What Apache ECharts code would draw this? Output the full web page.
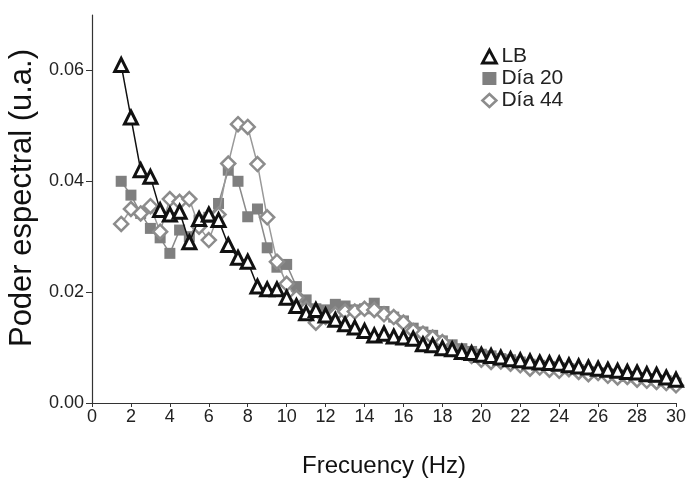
<!DOCTYPE html>
<html><head><meta charset="utf-8">
<script src="https://cdn.jsdelivr.net/npm/echarts@6/dist/echarts.min.js"></script>
<style>html,body{margin:0;padding:0;background:#fff}#c{width:688px;height:481px}</style>
</head><body><div id="c"></div>
<script>
const freq = [1.5,2,2.5,3,3.5,4,4.5,5,5.5,6,6.5,7,7.5,8,8.5,9,9.5,10,10.5,11,11.5,12,12.5,13,13.5,14,14.5,15,15.5,16,16.5,17,17.5,18,18.5,19,19.5,20,20.5,21,21.5,22,22.5,23,23.5,24,24.5,25,25.5,26,26.5,27,27.5,28,28.5,29,29.5,30];
const lb = [0.061,0.0515,0.042,0.0408,0.0348,0.034,0.0345,0.029,0.0332,0.034,0.033,0.0285,0.0262,0.0255,0.021,0.0205,0.0205,0.019,0.0175,0.0162,0.0168,0.0158,0.015,0.0142,0.0136,0.013,0.0122,0.0125,0.012,0.0118,0.0116,0.0106,0.0104,0.0099,0.0097,0.0092,0.009,0.0087,0.0085,0.0082,0.0079,0.0077,0.0075,0.0073,0.0072,0.0071,0.0068,0.0066,0.0064,0.0062,0.006,0.0058,0.0056,0.0055,0.0052,0.0051,0.0046,0.0042];
const dia20 = [0.040,0.0375,0.0342,0.0315,0.0298,0.027,0.0312,0.030,0.033,0.0335,0.036,0.042,0.040,0.0336,0.035,0.028,0.0245,0.025,0.021,0.0186,0.017,0.0168,0.0178,0.0175,0.0168,0.017,0.018,0.0165,0.0155,0.0148,0.0135,0.0128,0.0122,0.0112,0.0105,0.0098,0.0093,0.0088,0.0085,0.008,0.0078,0.0074,0.007,0.0068,0.0066,0.0064,0.0062,0.006,0.0057,0.0055,0.0053,0.0051,0.0048,0.0046,0.0044,0.0042,0.004,0.0036];
const dia44 = [0.0323,0.035,0.0342,0.0355,0.0309,0.0368,0.0363,0.0368,0.0318,0.0294,0.034,0.0432,0.0503,0.0498,0.0431,0.0335,0.0255,0.0215,0.019,0.017,0.0145,0.0155,0.016,0.0165,0.0165,0.017,0.0168,0.016,0.0155,0.0145,0.013,0.0125,0.0118,0.011,0.0098,0.0092,0.0085,0.0078,0.0074,0.0075,0.0071,0.0068,0.0062,0.0064,0.006,0.0058,0.0061,0.0056,0.0052,0.0054,0.0049,0.0046,0.0047,0.0042,0.004,0.0038,0.0036,0.0032];
const yTicks = [0,0.02,0.04,0.06];
const names = ['LB','Día 20','Día 44'];
const pair = arr => freq.map((f,i)=>[f,arr[i]]);
const font = 'Liberation Sans, Arial, sans-serif';

const chart = echarts.init(document.getElementById('c'), null, {renderer:'canvas'});
chart.setOption({
  animation:false,
  grid:{left:92,right:12,top:15,bottom:78,containLabel:false,outerBoundsMode:'none'},
  legend:{
    orient:'vertical', left:476, top:41, itemGap:1, itemWidth:14, itemHeight:13,
    textStyle:{fontFamily:font,fontSize:21,color:'#222',lineHeight:20},
    data:[
      {name:names[0],icon:'triangle',itemStyle:{color:'#fff',borderColor:'#111',borderWidth:2.8}},
      {name:names[1],icon:'rect',itemStyle:{color:'#7f7f7f',borderWidth:0}},
      {name:names[2],icon:'diamond',itemStyle:{color:'#fff',borderColor:'#8c8c8c',borderWidth:2.5}}
    ]
  },
  xAxis:{
    type:'value',min:0,max:30,interval:2,
    name:'Frecuency (Hz)',nameLocation:'middle',nameGap:51,
    nameTextStyle:{fontFamily:font,fontSize:24,color:'#111'},
    axisLine:{lineStyle:{color:'#333',width:1.2}},
    axisTick:{length:4,lineStyle:{color:'#333'}},
    axisLabel:{fontFamily:font,fontSize:18,color:'#222',margin:5},
    splitLine:{show:false}
  },
  yAxis:{
    type:'value',min:0,max:0.07,
    name:'Poder espectral (u.a.)',nameLocation:'middle',nameGap:50,nameRotate:90,
    nameTextStyle:{fontFamily:font,fontSize:31,color:'#111',padding:[0,0,0,22]},
    axisLine:{show:true,lineStyle:{color:'#333',width:1.2}},
    axisTick:{show:true,length:6,customValues:yTicks,lineStyle:{color:'#333'}},
    axisLabel:{fontFamily:font,fontSize:18,color:'#222',margin:8,customValues:yTicks,formatter:v=>v.toFixed(2)},
    splitLine:{show:false}
  },
  series:[
    {name:names[1],type:'line',data:pair(dia20),symbol:'rect',symbolSize:11,z:2,
     lineStyle:{color:'#8a8a8a',width:1.5},itemStyle:{color:'#7f7f7f',borderWidth:0}},
    {name:names[2],type:'line',data:pair(dia44),symbol:'diamond',symbolSize:14,z:3,
     lineStyle:{color:'#999',width:1.5},itemStyle:{color:'#fff',borderColor:'#8c8c8c',borderWidth:2.5}},
    {name:names[0],type:'line',data:pair(lb),symbol:'triangle',symbolSize:13,z:4,
     lineStyle:{color:'#111',width:1.5},itemStyle:{color:'#fff',borderColor:'#111',borderWidth:3}}
  ]
});
</script></body></html>
